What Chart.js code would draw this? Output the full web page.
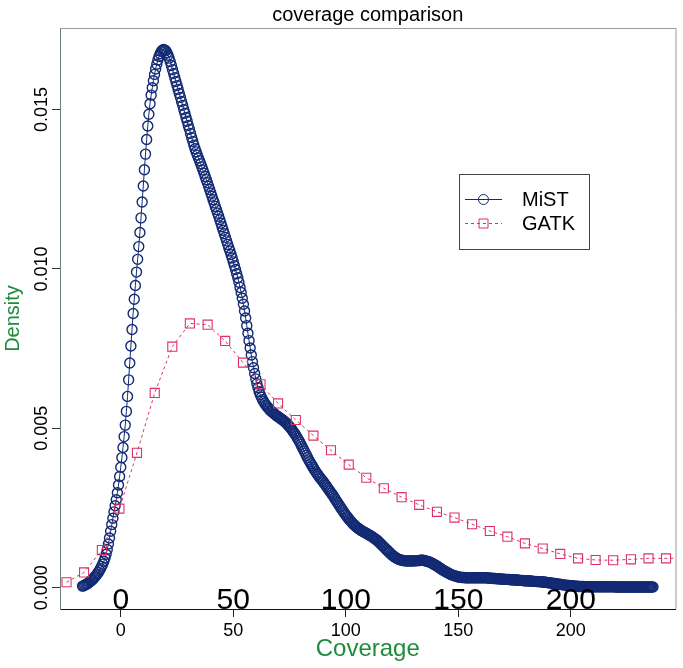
<!DOCTYPE html>
<html><head><meta charset="utf-8">
<script src="https://cdn.jsdelivr.net/npm/chart.js@4.4.0/dist/chart.umd.min.js"></script>
<style>html,body{margin:0;padding:0;background:#fff;}#wrap{width:683px;height:668px;}</style>
</head><body><div id="wrap"><canvas id="c" width="683" height="668"></canvas></div>
<script>
const chartTitle = 'coverage comparison';
const xAxisTitle = 'Coverage';
const yAxisTitle = 'Density';
const seriesNames = ['MiST', 'GATK'];
const xTickValues = [0, 50, 100, 150, 200];
const yTickValues = [0, 0.005, 0.010, 0.015];

const mistX = [
-17,-16.5,-16,-15.5,-15,-14.5,-14,-13.5,-13,-12.5,
-12,-11.5,-11,-10.5,-10,-9.5,-9,-8.5,-8,-7.5,
-7,-6.5,-6,-5.5,-5,-4.5,-4,-3.5,-3,-2.5,
-2,-1.5,-1,-0.5,0,0.5,1,1.5,2,2.5,
3,3.5,4,4.5,5,5.5,6,6.5,7,7.5,
8,8.5,9,9.5,10,10.5,11,11.5,12,12.5,
13,13.5,14,14.5,15,15.5,16,16.5,17,17.5,
18,18.5,19,19.5,20,20.5,21,21.5,22,22.5,
23,23.5,24,24.5,25,25.5,26,26.5,27,27.5,
28,28.5,29,29.5,30,30.5,31,31.5,32,32.5,
33,33.5,34,34.5,35,35.5,36,36.5,37,37.5,
38,38.5,39,39.5,40,40.5,41,41.5,42,42.5,
43,43.5,44,44.5,45,45.5,46,46.5,47,47.5,
48,48.5,49,49.5,50,50.5,51,51.5,52,52.5,
53,53.5,54,54.5,55,55.5,56,56.5,57,57.5,
58,58.5,59,59.5,60,60.5,61,61.5,62,62.5,
63,63.5,64,64.5,65,65.5,66,66.5,67,67.5,
68,68.5,69,69.5,70,70.5,71,71.5,72,72.5,
73,73.5,74,74.5,75,75.5,76,76.5,77,77.5,
78,78.5,79,79.5,80,80.5,81,81.5,82,82.5,
83,83.5,84,84.5,85,85.5,86,86.5,87,87.5,
88,88.5,89,89.5,90,90.5,91,91.5,92,92.5,
93,93.5,94,94.5,95,95.5,96,96.5,97,97.5,
98,98.5,99,99.5,100,100.5,101,101.5,102,102.5,
103,103.5,104,104.5,105,105.5,106,106.5,107,107.5,
108,108.5,109,109.5,110,110.5,111,111.5,112,112.5,
113,113.5,114,114.5,115,115.5,116,116.5,117,117.5,
118,118.5,119,119.5,120,120.5,121,121.5,122,122.5,
123,123.5,124,124.5,125,125.5,126,126.5,127,127.5,
128,128.5,129,129.5,130,130.5,131,131.5,132,132.5,
133,133.5,134,134.5,135,135.5,136,136.5,137,137.5,
138,138.5,139,139.5,140,140.5,141,141.5,142,142.5,
143,143.5,144,144.5,145,145.5,146,146.5,147,147.5,
148,148.5,149,149.5,150,150.5,151,151.5,152,152.5,
153,153.5,154,154.5,155,155.5,156,156.5,157,157.5,
158,158.5,159,159.5,160,160.5,161,161.5,162,162.5,
163,163.5,164,164.5,165,165.5,166,166.5,167,167.5,
168,168.5,169,169.5,170,170.5,171,171.5,172,172.5,
173,173.5,174,174.5,175,175.5,176,176.5,177,177.5,
178,178.5,179,179.5,180,180.5,181,181.5,182,182.5,
183,183.5,184,184.5,185,185.5,186,186.5,187,187.5,
188,188.5,189,189.5,190,190.5,191,191.5,192,192.5,
193,193.5,194,194.5,195,195.5,196,196.5,197,197.5,
198,198.5,199,199.5,200,200.5,201,201.5,202,202.5,
203,203.5,204,204.5,205,205.5,206,206.5,207,207.5,
208,208.5,209,209.5,210,210.5,211,211.5,212,212.5,
213,213.5,214,214.5,215,215.5,216,216.5,217,217.5,
218,218.5,219,219.5,220,220.5,221,221.5,222,222.5,
223,223.5,224,224.5,225,225.5,226,226.5,227,227.5,
228,228.5,229,229.5,230,230.5,231,231.5,232,232.5,
233,233.5,234,234.5,235,235.5,236,236.5
];

const mistY = [
0.00005,0.00006,0.00008,0.00010,0.00012,0.00014,0.00017,0.00020,0.00023,0.00026,
0.00030,0.00034,0.00038,0.00043,0.00048,0.00054,0.00060,0.00067,0.00074,0.00083,
0.00093,0.00105,0.00120,0.00137,0.00156,0.00177,0.00198,0.00218,0.00238,0.00257,
0.00276,0.00298,0.00322,0.00349,0.00378,0.00408,0.00440,0.00474,0.00510,0.00553,
0.00600,0.00652,0.00705,0.00758,0.00810,0.00860,0.00905,0.00948,0.00990,0.01030,
0.01070,0.01114,0.01160,0.01210,0.01260,0.01311,0.01360,0.01406,0.01448,0.01485,
0.01518,0.01545,0.01568,0.01590,0.01610,0.01627,0.01642,0.01655,0.01666,0.01675,
0.01682,0.01686,0.01688,0.01687,0.01684,0.01678,0.01670,0.01661,0.01650,0.01638,
0.01625,0.01613,0.01600,0.01588,0.01575,0.01563,0.01550,0.01538,0.01525,0.01513,
0.01500,0.01488,0.01475,0.01463,0.01450,0.01438,0.01425,0.01412,0.01400,0.01388,
0.01377,0.01367,0.01357,0.01348,0.01339,0.01330,0.01320,0.01310,0.01300,0.01290,
0.01280,0.01270,0.01259,0.01249,0.01238,0.01228,0.01217,0.01207,0.01196,0.01186,
0.01175,0.01165,0.01154,0.01143,0.01132,0.01121,0.01110,0.01099,0.01088,0.01077,
0.01066,0.01056,0.01045,0.01034,0.01022,0.01010,0.00998,0.00985,0.00972,0.00958,
0.00942,0.00926,0.00908,0.00889,0.00868,0.00846,0.00822,0.00798,0.00775,0.00752,
0.00730,0.00709,0.00690,0.00672,0.00655,0.00640,0.00627,0.00615,0.00605,0.00597,
0.00590,0.00584,0.00578,0.00573,0.00568,0.00564,0.00560,0.00556,0.00553,0.00550,
0.00547,0.00544,0.00541,0.00538,0.00536,0.00533,0.00531,0.00528,0.00526,0.00523,
0.00520,0.00517,0.00513,0.00509,0.00505,0.00501,0.00496,0.00491,0.00486,0.00481,
0.00475,0.00469,0.00463,0.00457,0.00450,0.00443,0.00436,0.00429,0.00422,0.00415,
0.00408,0.00401,0.00395,0.00389,0.00383,0.00377,0.00371,0.00365,0.00360,0.00355,
0.00350,0.00345,0.00341,0.00336,0.00332,0.00327,0.00322,0.00317,0.00312,0.00307,
0.00302,0.00297,0.00292,0.00287,0.00281,0.00276,0.00270,0.00265,0.00259,0.00254,
0.00248,0.00243,0.00238,0.00233,0.00228,0.00223,0.00219,0.00214,0.00210,0.00206,
0.00202,0.00198,0.00195,0.00192,0.00189,0.00186,0.00184,0.00181,0.00179,0.00177,
0.00175,0.00173,0.00171,0.00169,0.00167,0.00165,0.00163,0.00161,0.00158,0.00156,
0.00153,0.00151,0.00148,0.00145,0.00141,0.00138,0.00134,0.00131,0.00127,0.00124,
0.00120,0.00117,0.00113,0.00110,0.00106,0.00103,0.00100,0.00097,0.00095,0.00093,
0.00091,0.00089,0.00088,0.00087,0.00086,0.00085,0.00085,0.00084,0.00084,0.00084,
0.00084,0.00084,0.00084,0.00084,0.00084,0.00084,0.00085,0.00085,0.00085,0.00085,
0.00086,0.00086,0.00086,0.00086,0.00085,0.00084,0.00083,0.00082,0.00081,0.00080,
0.00078,0.00076,0.00074,0.00072,0.00070,0.00068,0.00066,0.00063,0.00061,0.00058,
0.00056,0.00054,0.00052,0.00050,0.00048,0.00046,0.00044,0.00042,0.00041,0.00039,
0.00038,0.00037,0.00036,0.00035,0.00034,0.00033,0.00033,0.00032,0.00032,0.00032,
0.00031,0.00031,0.00031,0.00031,0.00031,0.00031,0.00031,0.00031,0.00031,0.00031,
0.00031,0.00031,0.00031,0.00031,0.00031,0.00031,0.00031,0.00031,0.00031,0.00031,
0.00031,0.00030,0.00030,0.00030,0.00030,0.00029,0.00029,0.00029,0.00028,0.00028,
0.00028,0.00028,0.00027,0.00027,0.00027,0.00027,0.00026,0.00026,0.00026,0.00026,
0.00025,0.00025,0.00025,0.00025,0.00024,0.00024,0.00024,0.00024,0.00023,0.00023,
0.00023,0.00023,0.00022,0.00022,0.00022,0.00022,0.00021,0.00021,0.00021,0.00021,
0.00020,0.00020,0.00020,0.00020,0.00019,0.00019,0.00019,0.00019,0.00018,0.00018,
0.00018,0.00017,0.00017,0.00016,0.00016,0.00015,0.00015,0.00014,0.00014,0.00013,
0.00013,0.00012,0.00012,0.00011,0.00011,0.00010,0.00010,0.00009,0.00009,0.00008,
0.00008,0.00007,0.00007,0.00007,0.00006,0.00006,0.00006,0.00005,0.00005,0.00005,
0.00005,0.00004,0.00004,0.00004,0.00004,0.00004,0.00003,0.00003,0.00003,0.00003,
0.00003,0.00003,0.00003,0.00003,0.00003,0.00003,0.00003,0.00003,0.00003,0.00003,
0.00003,0.00003,0.00003,0.00003,0.00003,0.00003,0.00003,0.00003,0.00003,0.00003,
0.00003,0.00003,0.00003,0.00003,0.00002,0.00002,0.00002,0.00002,0.00002,0.00002,
0.00002,0.00002,0.00002,0.00002,0.00002,0.00002,0.00002,0.00002,0.00002,0.00002,
0.00002,0.00002,0.00002,0.00002,0.00002,0.00002,0.00002,0.00002,0.00002,0.00002,
0.00002,0.00002,0.00002,0.00002,0.00002,0.00002,0.00002,0.00002
];

const gatkX = [-24.1,-16.3,-8.4,-0.6,7.2,15.1,22.9,30.7,38.6,46.4,54.3,62.1,69.9,77.8,85.6,93.4,101.3,109.1,116.9,124.8,132.6,140.5,148.3,156.1,164.0,171.8,179.6,187.5,195.3,203.2,211.0,218.8,226.7,234.5,242.3,250.2];
const gatkY = [0.00017,0.00048,0.00118,0.00248,0.00423,0.00611,0.00756,0.00829,0.00825,0.00774,0.00706,0.00638,0.00578,0.00526,0.00477,0.00431,0.00386,0.00345,0.00312,0.00284,0.00260,0.00238,0.00220,0.00199,0.00178,0.00160,0.00139,0.00123,0.00106,0.00092,0.00087,0.00086,0.00089,0.00092,0.00092,0.00093];

const FONT = '"Liberation Sans", Arial, Helvetica, sans-serif';
const NAVY = '#132a74';
const RED = '#dc3264';
const GREEN = '#1f8c3c';
Chart.defaults.font.family = FONT;
Chart.defaults.color = '#000';

const decor = {
  id: 'decor',
  afterDatasetsDraw(chart) {
    const {ctx, chartArea: a, scales: {x}} = chart;
    ctx.save();
    ctx.strokeStyle = '#9a9a9a';
    ctx.lineWidth = 1;
    ctx.beginPath();
    ctx.moveTo(a.left, a.top + 0.5);
    ctx.lineTo(a.right + 0.5, a.top + 0.5);
    ctx.lineTo(a.right + 0.5, a.bottom);
    ctx.stroke();
    ctx.fillStyle = '#000';
    ctx.font = '30px ' + FONT;
    ctx.textAlign = 'center';
    ctx.textBaseline = 'alphabetic';
    xTickValues.forEach(v => ctx.fillText(String(v), x.getPixelForValue(v), a.bottom - 0.5));
    // legend
    const lx = 459.5, ly = 174.5, lw = 130, lh = 75;
    ctx.strokeStyle = '#444';
    ctx.lineWidth = 1;
    ctx.strokeRect(lx, ly, lw, lh);
    const rows = [{name: seriesNames[0], col: NAVY, y: 199.5, dash: [], shape: 'circle'},
                  {name: seriesNames[1], col: RED, y: 223.5, dash: [3, 3], shape: 'rect'}];
    rows.forEach(r => {
      ctx.strokeStyle = r.col;
      ctx.lineWidth = 1;
      ctx.setLineDash(r.dash);
      ctx.beginPath();
      ctx.moveTo(465, r.y); ctx.lineTo(502, r.y);
      ctx.stroke();
      ctx.setLineDash([]);
      ctx.beginPath();
      if (r.shape === 'circle') ctx.arc(483.5, r.y, 5, 0, Math.PI * 2);
      else ctx.rect(479, r.y - 4.5, 9, 9);
      ctx.stroke();
      ctx.fillStyle = '#000';
      ctx.font = '20px ' + FONT;
      ctx.textAlign = 'left';
      ctx.textBaseline = 'middle';
      ctx.fillText(r.name, 522, r.y + 0.5);
    });
    ctx.restore();
  }
};

new Chart(document.getElementById('c'), {
  type: 'line',
  data: {
    datasets: [
      {
        label: seriesNames[0],
        data: mistX.map((x, i) => ({x, y: mistY[i]})),
        borderColor: NAVY,
        borderWidth: 1,
        pointStyle: 'circle',
        pointRadius: 5,
        pointBorderWidth: 1.4,
        pointBorderColor: NAVY,
        pointBackgroundColor: 'rgba(0,0,0,0)',
        tension: 0,
        fill: false,
        order: 2
      },
      {
        label: seriesNames[1],
        data: gatkX.map((x, i) => ({x, y: gatkY[i]})),
        borderColor: RED,
        borderWidth: 1,
        borderDash: [3, 3],
        pointStyle: 'rect',
        pointRadius: 6.4,
        pointBorderWidth: 1.1,
        pointBorderColor: RED,
        pointBackgroundColor: 'rgba(0,0,0,0)',
        tension: 0,
        fill: false,
        order: 1
      }
    ]
  },
  options: {
    responsive: false,
    devicePixelRatio: 1,
    animation: false,
    events: [],
    layout: {padding: {left: 0, right: 6, top: 0, bottom: 0}},
    plugins: {
      legend: {display: false},
      tooltip: {enabled: false},
      title: {
        display: true, text: chartTitle, fullSize: false,
        font: {size: 20, weight: 'normal', family: FONT}, color: '#000',
        padding: {top: 3, bottom: 1}
      }
    },
    scales: {
      x: {
        type: 'linear', position: 'bottom', min: -27.0, max: 246.5,
        afterBuildTicks: s => { s.ticks = xTickValues.map(v => ({value: v})); },
        afterFit: s => { s.height = 59; },
        ticks: {autoSkip: false, maxRotation: 0, font: {size: 18}, color: '#000', padding: 3, callback: v => String(v)},
        grid: {drawOnChartArea: false, drawTicks: true, tickLength: 8, tickColor: '#222'},
        border: {display: true, color: '#111', width: 1},
        title: {display: true, text: xAxisTitle, color: GREEN, font: {size: 24}, padding: {top: 0, bottom: 4}}
      },
      y: {
        type: 'linear', position: 'left', min: -0.000668, max: 0.017556,
        afterBuildTicks: s => { s.ticks = yTickValues.map(v => ({value: v})); },
        afterFit: s => { s.width = 60; },
        ticks: {autoSkip: false, minRotation: 90, maxRotation: 90, crossAlign: 'center', padding: -12.5,
                font: {size: 18}, color: '#000', callback: v => Number(v).toFixed(3)},
        grid: {drawOnChartArea: false, drawTicks: true, tickLength: 8, tickColor: '#333'},
        border: {display: true, color: '#6f7f78', width: 1},
        title: {display: true, text: yAxisTitle, color: GREEN, font: {size: 20}, padding: {top: 1, bottom: 0}}
      }
    }
  },
  plugins: [decor]
});
</script>
</body></html>
